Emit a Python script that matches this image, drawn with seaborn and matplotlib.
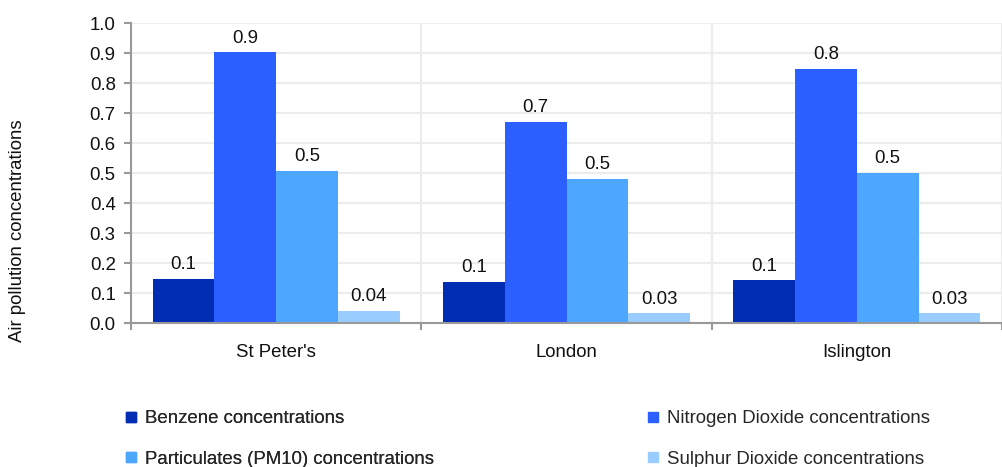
import matplotlib
matplotlib.use("Agg")
import matplotlib.pyplot as plt
import seaborn as sns
import pandas as pd
from matplotlib.lines import Line2D

areas = ["St Peter's", "London", "Islington"]
pollutants = ["Benzene concentrations", "Nitrogen Dioxide concentrations",
              "Particulates (PM10) concentrations", "Sulphur Dioxide concentrations"]
benzene = [0.147, 0.137, 0.143]
nitrogen_dioxide = [0.903, 0.670, 0.847]
pm10 = [0.507, 0.480, 0.500]
sulphur_dioxide = [0.040, 0.032, 0.033]
colors = ["#002db3", "#2b5fff", "#4da6ff", "#99ccff"]
y_ticks = [0.0, 0.1, 0.2, 0.3, 0.4, 0.5, 0.6, 0.7, 0.8, 0.9, 1.0]

rows = []
for name, vals in zip(pollutants, [benzene, nitrogen_dioxide, pm10, sulphur_dioxide]):
    for a, v in zip(areas, vals):
        rows.append({"area": a, "pollutant": name, "value": v})
df = pd.DataFrame(rows)

FS = 13.4
sns.set_style("white")
plt.rcParams["font.family"] = ["Liberation Sans", "DejaVu Sans"]
plt.rcParams["font.size"] = FS

fig = plt.figure(figsize=(10.02, 4.67), dpi=100)
ax = fig.add_axes([131 / 1002, 1 - 323 / 467, 1 - 131 / 1002, 300 / 467])

sns.barplot(data=df, x="area", y="value", hue="pollutant", hue_order=pollutants,
            order=areas, palette=colors, width=0.85, ax=ax, legend=False,
            saturation=1, edgecolor="none", linewidth=0)

for c in ax.containers:
    ax.bar_label(c, fmt="%.1g", padding=4, fontsize=FS, color="#111111")

ax.set_xlim(-0.5, 2.5)
ax.set_ylim(0, 1.0)
ax.set_yticks(y_ticks)
ax.set_yticklabels([f"{t:.1f}" for t in y_ticks])
ax.set_xlabel("")
ax.set_ylabel("")

ax.set_xticks([0, 1, 2])
ax.set_xticks([-0.5, 0.5, 1.5, 2.5], minor=True)
ax.tick_params(axis="x", which="major", length=0, pad=15, labelsize=FS, labelcolor="#111111")
ax.tick_params(axis="x", which="minor", length=5, width=1.5, color="#999999", bottom=True)
ax.tick_params(axis="y", length=5, width=1.5, color="#999999", pad=6, labelsize=FS,
               labelcolor="#111111", left=True)

ax.grid(axis="y", color="#ececec", linewidth=1.5)
ax.grid(axis="x", which="minor", color="#ececec", linewidth=1.5)
ax.set_axisbelow(True)
for s in ["top", "right"]:
    ax.spines[s].set_visible(False)
for s in ["left", "bottom"]:
    ax.spines[s].set_color("#999999")
    ax.spines[s].set_linewidth(1.5)

fig.text(18 / 1002, 1 - 231 / 467, "Air pollution concentrations", rotation=90,
         ha="center", va="center", fontsize=FS, color="#111111")

def handle(col):
    return Line2D([], [], marker="s", linestyle="none", markersize=6.5,
                  markerfacecolor=col, markeredgecolor=col)

legend_kw = dict(loc="upper left", frameon=False, fontsize=FS, handlelength=0.7,
                 handletextpad=0.43, labelspacing=1.27, borderpad=0, borderaxespad=0)
leg1 = fig.legend([handle(colors[0]), handle(colors[2])], [pollutants[0], pollutants[2]],
                  bbox_to_anchor=(124 / 1002, 1 - 410 / 467), **legend_kw)
leg2 = fig.legend([handle(colors[1]), handle(colors[3])], [pollutants[1], pollutants[3]],
                  bbox_to_anchor=(646 / 1002, 1 - 410 / 467), **legend_kw)
fig.add_artist(leg1)

fig.savefig("out.png", dpi=100)
